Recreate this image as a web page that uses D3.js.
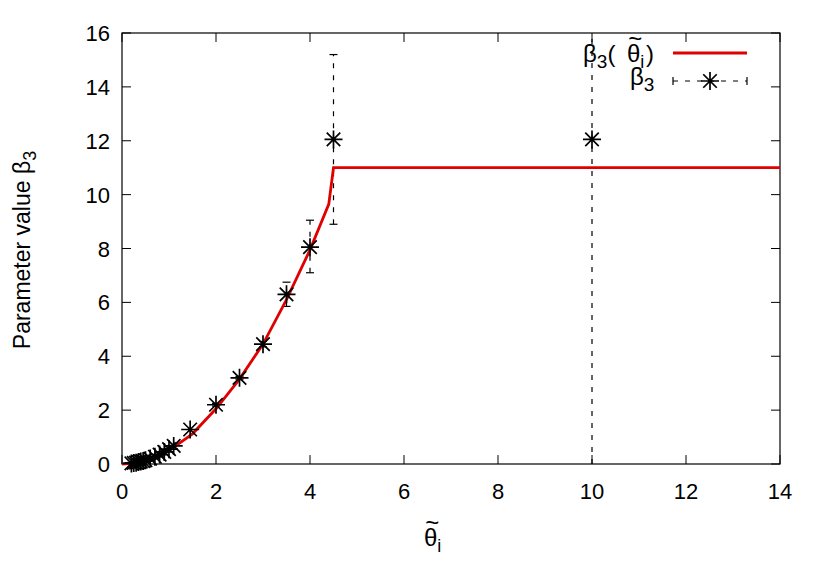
<!DOCTYPE html><html><head><script src="https://d3js.org/d3.v7.min.js"></script>
<style>body{margin:0;background:#fff}text{font-family:"Liberation Sans",Arial,sans-serif}</style></head><body>
<svg id="c" width="830" height="581"></svg>
<script>
const xTicks=[0,2,4,6,8,10,12,14];
const yTicks=[0,2,4,6,8,10,12,14,16];
const curveX=[0,0.25,0.5,0.75,1,1.5,2,2.5,3,3.5,4,4.4,4.5,14];
const curveY=[0,0.03,0.12,0.28,0.5,1.12,2.05,3.15,4.45,6.1,7.95,9.65,11,11];
const ptX=[0.2,0.25,0.3,0.35,0.4,0.45,0.5,0.6,0.7,0.8,0.9,1.0,1.1,1.45,2,2.5,3,3.5,4,4.5,10];
const ptY=[0.02,0.04,0.05,0.07,0.09,0.11,0.14,0.2,0.27,0.35,0.45,0.55,0.67,1.28,2.2,3.2,4.45,6.3,8.05,12.05,12.05];
const errLo=[0.02,0.04,0.05,0.07,0.09,0.11,0.14,0.2,0.27,0.35,0.45,0.55,0.67,1.25,2.15,3.15,4.35,5.85,7.1,8.9,0];
const errHi=[0.02,0.04,0.05,0.07,0.09,0.11,0.14,0.2,0.27,0.35,0.45,0.55,0.67,1.31,2.25,3.25,4.55,6.75,9.05,15.2,16];
const svg=d3.select("#c");
const L=122,R=780,T=33,B=464;
const x=d3.scaleLinear().domain([0,14]).range([L,R]);
const y=d3.scaleLinear().domain([0,16]).range([B,T]);
const g=svg.append("g");
g.append("rect").attr("x",L).attr("y",T).attr("width",R-L).attr("height",B-T).attr("fill","none").attr("stroke","#000").attr("stroke-width",1.2);
xTicks.forEach(t=>{g.append("line").attr("x1",x(t)).attr("x2",x(t)).attr("y1",B).attr("y2",B-9).attr("stroke","#000");
 g.append("line").attr("x1",x(t)).attr("x2",x(t)).attr("y1",T).attr("y2",T+9).attr("stroke","#000");
 g.append("text").attr("x",x(t)).attr("y",B+35).attr("text-anchor","middle").attr("font-size",22).text(t);});
yTicks.forEach(t=>{g.append("line").attr("x1",L).attr("x2",L+9).attr("y1",y(t)).attr("y2",y(t)).attr("stroke","#000");
 g.append("line").attr("x1",R).attr("x2",R-9).attr("y1",y(t)).attr("y2",y(t)).attr("stroke","#000");
 g.append("text").attr("x",L-12).attr("y",y(t)+8).attr("text-anchor","end").attr("font-size",22).text(t);});
ptX.forEach((px,i)=>{if(errHi[i]-errLo[i]<0.1)return;
 g.append("line").attr("x1",x(px)).attr("x2",x(px)).attr("y1",y(errLo[i])).attr("y2",y(errHi[i])).attr("stroke","#000").attr("stroke-width",1.2).attr("stroke-dasharray","5,7");
 [errLo[i],errHi[i]].forEach(v=>{if(v<=0||v>=16)return;g.append("line").attr("x1",x(px)-4).attr("x2",x(px)+4).attr("y1",y(v)).attr("y2",y(v)).attr("stroke","#000").attr("stroke-width",1.2);});});
g.append("path").datum(curveX.map((v,i)=>[v,curveY[i]])).attr("d",d3.line().x(d=>x(d[0])).y(d=>y(d[1]))).attr("fill","none").attr("stroke","#e00000").attr("stroke-width",2.8);
function star(cx,cy){const s=9;const p=`M${cx-s},${cy}h${2*s}M${cx},${cy-s}v${2*s}M${cx-s*0.75},${cy-s*0.75}l${1.5*s},${1.5*s}M${cx-s*0.75},${cy+s*0.75}l${1.5*s},${-1.5*s}`;
 g.append("path").attr("d",p).attr("stroke","#000").attr("stroke-width",1.7).attr("fill","none");}
ptX.forEach((px,i)=>star(x(px),y(ptY[i])));
function theta(sel,x0,y0,fs){ // theta with tilde above and subscript i
 sel.append("text").attr("x",x0).attr("y",y0).attr("font-size",fs).text("θ");
 sel.append("text").attr("x",x0+fs*0.05).attr("y",y0-fs*0.62).attr("font-size",fs).text("~");
 sel.append("text").attr("x",x0+fs*0.55).attr("y",y0+fs*0.25).attr("font-size",fs*0.75).text("i");}
// legend
const t1=g.append("text").attr("x",583).attr("y",62).attr("font-size",24);
t1.append("tspan").text("β");t1.append("tspan").attr("font-size",19).attr("dy",6).text("3");
t1.append("tspan").attr("dy",-6).text("(");
theta(g,627,62,24);
g.append("text").attr("x",646).attr("y",62).attr("font-size",24).text(")");
g.append("line").attr("x1",673).attr("x2",747).attr("y1",53).attr("y2",53).attr("stroke","#e00000").attr("stroke-width",2.8);
const t2=g.append("text").attr("x",630).attr("y",85).attr("font-size",24);
t2.append("tspan").text("β");t2.append("tspan").attr("font-size",19).attr("dy",6).text("3");
g.append("line").attr("x1",673).attr("x2",747).attr("y1",81).attr("y2",81).attr("stroke","#000").attr("stroke-width",1.2).attr("stroke-dasharray","5,7");
[673,747].forEach(v=>g.append("line").attr("x1",v).attr("x2",v).attr("y1",77).attr("y2",85).attr("stroke","#000").attr("stroke-width",1.2));
star(710,81);
theta(g,424,546,24);
const yl=g.append("text").attr("transform","translate(30,250) rotate(-90)").attr("text-anchor","middle").attr("font-size",23);
yl.append("tspan").text("Parameter value β");yl.append("tspan").attr("font-size",18).attr("dy",6).text("3");
</script></body></html>
